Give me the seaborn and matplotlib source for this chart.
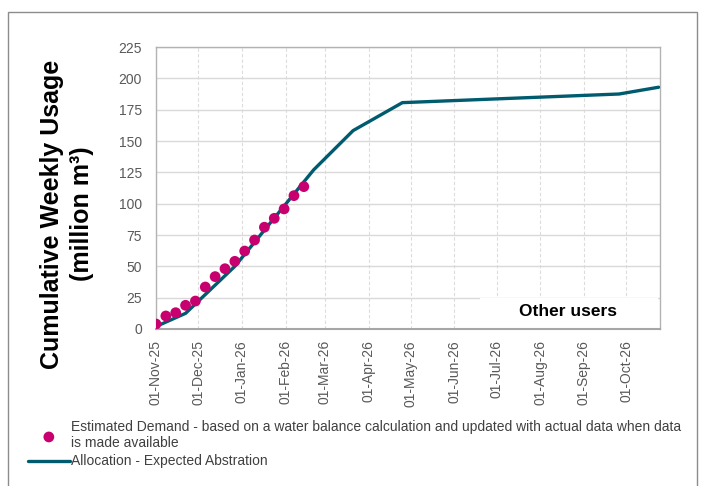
import pandas as pd
import matplotlib
matplotlib.use("Agg")
import matplotlib.pyplot as plt
import matplotlib.dates as mdates
from matplotlib.patches import Rectangle
import seaborn as sns

# weekly estimated demand (million m3), starting 01-Nov-25
demand_start = "2025-11-01"
demand_values = [4, 10.4, 13, 18.9, 22.3, 33.5, 41.8, 48.1, 54, 62.2,
                 71, 81.2, 88.3, 95.8, 106.4, 113.6]

# allocation line vertices
alloc_dates = ["2025-11-01", "2025-11-22", "2025-12-27", "2026-02-21",
               "2026-03-21", "2026-04-25", "2026-09-26", "2026-10-24"]
alloc_values = [2, 12.5, 50, 127, 158.3, 180.6, 187.5, 192.9]

y_ticks = [0, 25, 50, 75, 100, 125, 150, 175, 200, 225]

demand_label = ("Estimated Demand - based on a water balance calculation and updated with actual data when data\n"
                "is made available")
alloc_label = "Allocation - Expected Abstration"

DOT = "#c8006f"
TEAL = "#005b6e"
GREY_TXT = "#595959"

demand = pd.DataFrame({
    "date": pd.date_range(demand_start, periods=len(demand_values), freq="7D"),
    "value": demand_values,
})
alloc = pd.DataFrame({"date": pd.to_datetime(alloc_dates), "value": alloc_values})

sns.set_theme(style="whitegrid")
plt.rcParams["font.family"] = ["Liberation Sans", "DejaVu Sans"]

fig = plt.figure(figsize=(7.04, 4.86), dpi=100)
ax = fig.add_axes([156 / 704, 1 - 329 / 486, 504 / 704, 282 / 486])

sns.lineplot(data=alloc, x="date", y="value", ax=ax, color=TEAL, lw=2.4,
             label=alloc_label, zorder=3)
sns.scatterplot(data=demand, x="date", y="value", ax=ax, color=DOT, s=60,
                edgecolor="none", label=demand_label, zorder=4)

ax.set_xlim(pd.Timestamp("2025-11-01"), pd.Timestamp("2026-10-25"))
ax.set_ylim(0, 225)
ax.set_yticks(y_ticks)
ax.xaxis.set_major_locator(mdates.MonthLocator())
ax.xaxis.set_major_formatter(mdates.DateFormatter("%d-%b-%y"))
ax.tick_params(axis="x", rotation=90, labelsize=10, colors=GREY_TXT, length=0, pad=8)
ax.tick_params(axis="y", labelsize=10, colors=GREY_TXT, length=0, pad=10)
ax.set_xlabel("")
ax.set_ylabel("")

ax.set_axisbelow(True)
ax.grid(axis="y", color="#d9d9d9", lw=1, ls="-")
ax.grid(axis="x", color="#dcdcdc", lw=0.8, ls=(0, (3, 2)))
for side, sp in ax.spines.items():
    sp.set_color("#b3b3b3")
    sp.set_linewidth(1.0)
ax.spines["bottom"].set_color("#a6a6a6")
ax.spines["bottom"].set_linewidth(1.5)

# "Other users" label box
ax.add_patch(Rectangle((480, 157), 178, 31, transform=None, facecolor="white",
                       edgecolor="none", zorder=1))
ax.text(568 / 704, 1 - 312 / 486, "Other users", transform=fig.transFigure,
        ha="center", va="center", fontsize=12.5, fontweight="bold", color="black")

fig.text(67 / 704, 1 - 214 / 486, "Cumulative Weekly Usage\n(million m³)",
         rotation=90, ha="center", va="center", multialignment="center",
         fontsize=18, fontweight="bold", color="black", linespacing=1.3)

handles, labels = ax.get_legend_handles_labels()
order = [labels.index(demand_label), labels.index(alloc_label)]
ax.legend([handles[i] for i in order], [labels[i] for i in order],
          loc="upper left", bbox_to_anchor=(28 / 704, 1 - 420 / 486),
          bbox_transform=fig.transFigure, frameon=False, fontsize=10,
          labelcolor="#404040", handlelength=3.0, handletextpad=0.1,
          borderaxespad=0, borderpad=0, labelspacing=0.3)

fig.add_artist(Rectangle((8 / 704, -0.02), 689 / 704, 1.02 - 12 / 486,
                         transform=fig.transFigure, fill=False,
                         edgecolor="#8c8c8c", lw=1.0))

fig.savefig("out.png", dpi=100)
